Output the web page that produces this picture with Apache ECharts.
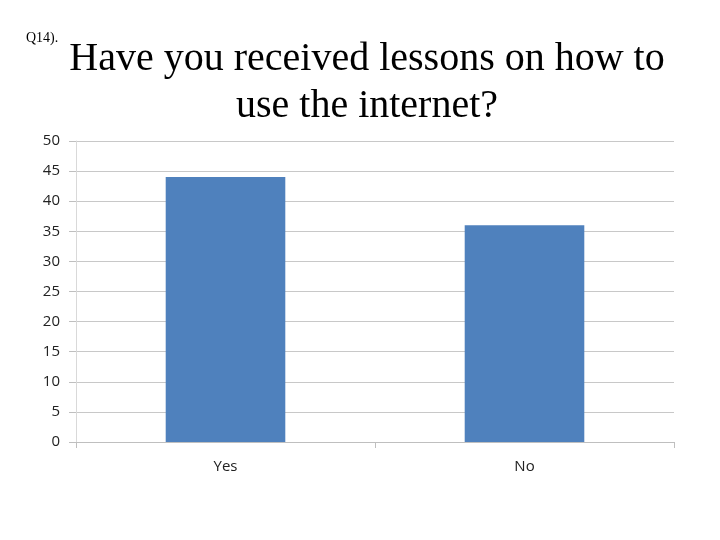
<!DOCTYPE html>
<html>
<head>
<meta charset="utf-8">
<script src="https://cdn.jsdelivr.net/npm/echarts@6/dist/echarts.min.js"></script>
<style>
  html, body { margin: 0; padding: 0; background: #fff; }
  #chart { width: 720px; height: 540px; }
</style>
</head>
<body>
<div id="chart"></div>
<script>
var categories = ['Yes', 'No'];
var responses = [44, 36];
var yTicks = { min: 0, max: 50, interval: 5 };

var chart = echarts.init(document.getElementById('chart'));

chart.setOption({
    backgroundColor: '#ffffff',
    animation: false,
    title: [
        {
            text: 'Q14).',
            left: 21,
            top: 26,
            textStyle: { fontFamily: 'Liberation Serif', fontSize: 14, fontWeight: 'normal', color: '#000' }
        },
        {
            text: 'Have you received lessons on how to\nuse the internet?',
            left: 362,
            top: 31,
            textAlign: 'center',
            textStyle: { fontFamily: 'Liberation Serif', fontSize: 40, fontWeight: 'normal', color: '#000', lineHeight: 47 }
        }
    ],
    grid: { left: 76, right: 46, top: 141, bottom: 98, containLabel: false },
    xAxis: {
        type: 'category',
        data: categories,
        axisLine: { lineStyle: { color: '#bfbfbf' } },
        axisTick: { show: true, length: 6, lineStyle: { color: '#bfbfbf' } },
        axisLabel: { fontFamily: 'Open Sans', fontSize: 15, color: '#222', margin: 17 }
    },
    yAxis: {
        type: 'value',
        min: yTicks.min,
        max: yTicks.max,
        interval: yTicks.interval,
        axisLine: { show: true, lineStyle: { color: '#d9d9d9' } },
        axisTick: { show: true, length: 7, lineStyle: { color: '#bfbfbf' } },
        splitLine: { lineStyle: { color: '#c8c8c8' } },
        axisLabel: { fontFamily: 'Open Sans', fontSize: 15, color: '#222', margin: 16 }
    },
    series: [{
        type: 'bar',
        data: responses,
        barWidth: '40%',
        itemStyle: { color: '#4f81bd' }
    }]
});
</script>
</body>
</html>
